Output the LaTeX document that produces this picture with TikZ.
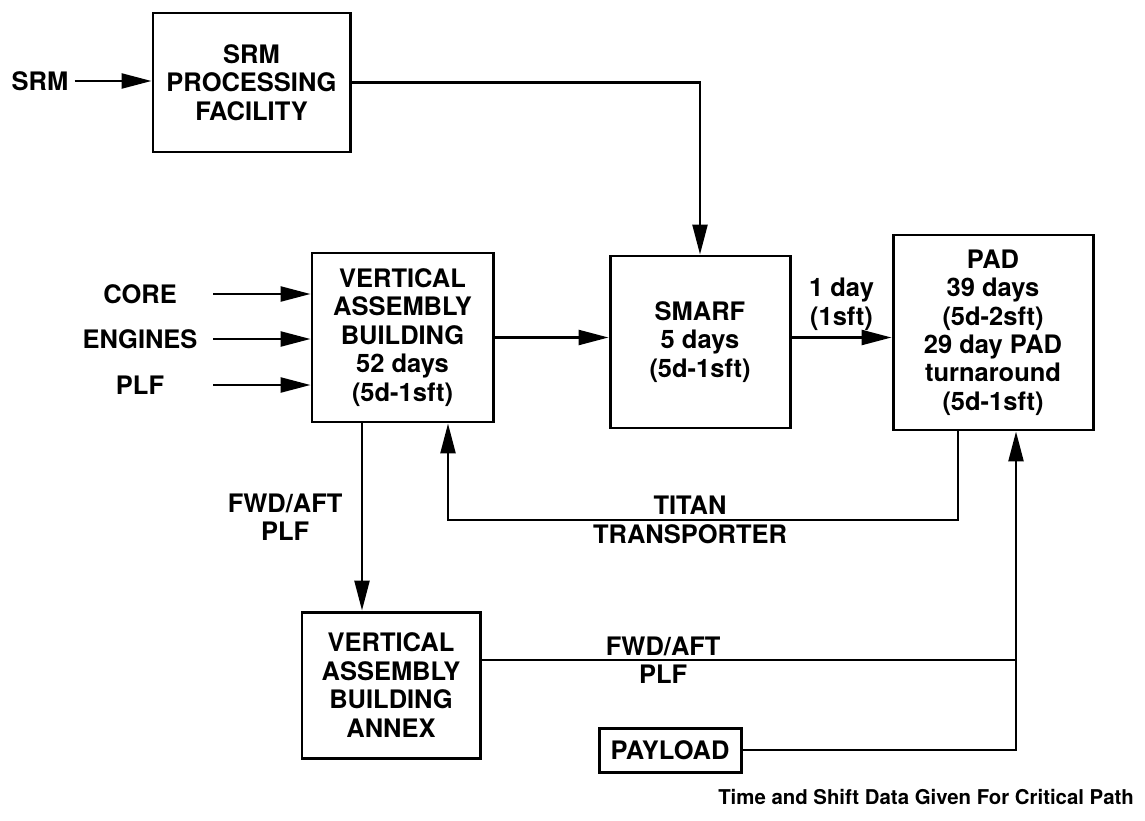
\documentclass[tikz,border=0pt]{standalone}
\usepackage{fontspec}
\setmainfont{TeX Gyre Heros}
\usetikzlibrary{arrows.meta}
\begin{document}
\begin{tikzpicture}[x=1cm,y=1cm,
  box/.style={draw, line width=1.7pt, align=center, inner sep=0pt, font=\bfseries\fontsize{14.5}{16.2}\selectfont},
  lbl/.style={align=center, font=\bfseries\fontsize{14.5}{16.2}\selectfont},
  flow/.style={line width=1.4pt, -{Triangle[length=0.6cm,width=0.3cm]}},
  wire/.style={line width=1.4pt}]
\useasboundingbox (0,0) rectangle (22.9,-16.4);
\node[box, minimum width=3.94cm, minimum height=2.78cm] (srmpf) at (5.03,-1.65) {SRM\\ PROCESSING\\ FACILITY};
\node[box, minimum width=3.62cm, minimum height=3.38cm] (vab) at (8.05,-6.75) {VERTICAL\\ ASSEMBLY\\ BUILDING\\ 52 days\\ (5d-1sft)};
\node[box, minimum width=3.6cm, minimum height=3.44cm] (smarf) at (14.0,-6.84) {SMARF\\ 5 days\\ (5d-1sft)};
\node[box, minimum width=4.0cm, minimum height=3.9cm] (pad) at (19.86,-6.65) {PAD\\ 39 days\\ (5d-2sft)\\ 29 day PAD\\ turnaround\\ (5d-1sft)};
\node[box, minimum width=3.56cm, minimum height=2.92cm] (annex) at (7.82,-13.7) {VERTICAL\\ ASSEMBLY\\ BUILDING\\ ANNEX};
\node[box, minimum width=2.84cm, minimum height=0.88cm] (payload) at (13.4,-15.0) {PAYLOAD};
\node[lbl] (srm) at (0.8,-1.62) {SRM};
\node[lbl, minimum width=2.92cm] (core) at (2.8,-5.88) {CORE};
\node[lbl, minimum width=2.92cm] (engines) at (2.8,-6.78) {ENGINES};
\node[lbl, minimum width=2.92cm] (plf) at (2.8,-7.7) {PLF};
% inputs
\draw[flow] (srm.east) -- (srm.east -| srmpf.west);
\draw[flow] (core.east) -- (core.east -| vab.west);
\draw[flow] (engines.east) -- (engines.east -| vab.west);
\draw[flow] (plf.east) -- (plf.east -| vab.west);
% main flow
\draw[flow] (srmpf.east) -| (smarf.north);
\draw[flow] (vab.east) -- (vab.east -| smarf.west);
\draw[flow] (smarf.east |- vab.east) -- (pad.west |- vab.east) node[midway, above, lbl] {1 day\\ (1sft)};
% transporter return
\coordinate (titan) at (13.8,-10.4);
\draw[flow] ([xshift=-0.7cm]pad.south) |- (titan) -| ([xshift=0.91cm]vab.south);
\node[lbl] (titanlbl) at (titan) {TITAN\\ TRANSPORTER};
% fairing to annex and back to pad
\draw[flow] ([xshift=-0.81cm]vab.south) -- ([xshift=-0.81cm]vab.south |- annex.north) node[midway, left=0.25cm, lbl] {FWD/AFT\\ PLF};
\coordinate (payup) at ([xshift=0.46cm]pad.south);
\draw[wire] ([yshift=0.5cm]annex.east) -- ([yshift=0.5cm]annex.east -| payup) node[pos=0.34, lbl] {FWD/AFT\\ PLF};
\draw[flow] (payload.east) -| (payup);
\node[anchor=east, font=\bfseries\fontsize{11.6}{13}\selectfont] (note) at (22.8,-15.94) {Time and Shift Data Given For Critical Path};
\end{tikzpicture}
\end{document}
